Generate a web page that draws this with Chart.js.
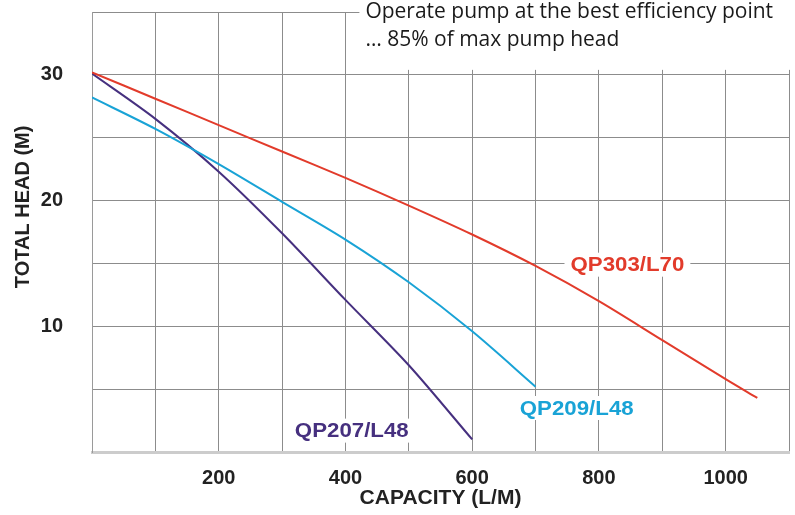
<!DOCTYPE html>
<html>
<head>
<meta charset="utf-8">
<script src="https://cdn.jsdelivr.net/npm/chart.js@4/dist/chart.umd.min.js"></script>
<style>
  html, body { margin: 0; padding: 0; background: #fff; }
  #wrap { width: 795px; height: 515px; }
</style>
</head>
<body>
<div id="wrap"><canvas id="pumpChart" width="795" height="515"></canvas></div>
<script>
// capacity (L/M) sample points and head (M)
const qp303Flow = [0, 100, 200, 300, 400, 500, 600, 700, 800, 900, 1000, 1050];
const qp303Head = [30.2, 28.1, 26.0, 23.9, 21.8, 19.6, 17.3, 14.8, 12.0, 8.9, 5.8, 4.3];

const qp209Flow = [0, 100, 200, 300, 400, 500, 600, 700];
const qp209Head = [28.2, 25.7, 22.9, 19.9, 16.9, 13.5, 9.6, 5.2];

const qp207Flow = [0, 100, 200, 300, 400, 500, 600];
const qp207Head = [30.1, 26.5, 22.3, 17.4, 12.1, 6.9, 1.0];

const seriesNames = ['QP303/L70', 'QP209/L48', 'QP207/L48'];
const seriesColors = ['#e23b2b', '#19a3d6', '#46307f'];
// where each name sits, in chart units (capacity, head)
const labelAt = [[845, 14.9], [765, 3.5], [410, 1.7]];

const yTickLabels = [10, 20, 30];
const xTickLabels = [200, 400, 600, 800, 1000];
const note = ['Operate pump at the best efficiency point', '\u2026 85% of max pump head'];
const yTitle = 'TOTAL HEAD (M)';

const boldFont = '"Liberation Sans", Arial, sans-serif';

function pts(xs, ys) { return xs.map((x, i) => ({ x: x, y: ys[i] })); }

const curves = [pts(qp303Flow, qp303Head), pts(qp209Flow, qp209Head), pts(qp207Flow, qp207Head)];

// names on the curves, the y title and the note in the top right corner
const annotate = {
  id: 'annotate',
  afterDatasetsDraw(chart) {
    const ctx = chart.ctx, xs = chart.scales.x, ys = chart.scales.y;
    ctx.save();
    // note box hides the grid behind it
    const boxL = xs.getPixelForValue(422);
    ctx.fillStyle = '#fff';
    ctx.fillRect(boxL, 0, chart.width - boxL, ys.getPixelForValue(30) - 5);
    ctx.fillStyle = '#1a1a1a';
    ctx.font = '21px "Open Sans", "Noto Sans", sans-serif';
    ctx.textBaseline = 'middle';
    ctx.textAlign = 'left';
    ctx.fillText(note[0], boxL + 6, 12);
    ctx.fillText(note[1], boxL + 6, 40);

    ctx.font = 'bold 21px ' + boldFont;
    ctx.textAlign = 'center';
    seriesNames.forEach((n, i) => {
      const px = xs.getPixelForValue(labelAt[i][0]);
      const py = ys.getPixelForValue(labelAt[i][1]);
      const w = ctx.measureText(n).width * 1.06;
      ctx.fillStyle = '#fff';
      ctx.fillRect(px - w / 2 - 6, py - 12, w + 12, 24);
      ctx.save();
      ctx.translate(px, py);
      ctx.scale(1.06, 1);
      ctx.fillStyle = seriesColors[i];
      ctx.fillText(n, 0, 1);
      ctx.restore();
    });

    // y title, sits a bit above the middle like the original
    ctx.save();
    ctx.translate(23, ys.getPixelForValue(19.5));
    ctx.rotate(-Math.PI / 2);
    ctx.fillStyle = '#222';
    ctx.font = 'bold 20px ' + boldFont;
    ctx.fillText(yTitle, 0, 0);
    ctx.restore();
    ctx.restore();
  }
};

new Chart(document.getElementById('pumpChart'), {
  type: 'scatter',
  data: {
    datasets: curves.map((d, i) => ({
      label: seriesNames[i],
      data: d,
      showLine: true,
      borderColor: seriesColors[i],
      borderWidth: 2,
      pointRadius: 0,
      tension: 0.3
    }))
  },
  options: {
    responsive: false,
    animation: false,
    layout: { padding: { top: 0, right: 6, left: 0, bottom: 0 } },
    plugins: { legend: { display: false }, tooltip: { enabled: false } },
    scales: {
      x: {
        type: 'linear', min: 0, max: 1100,
        afterFit(s) { s.height = 63; },
        grid: { color: '#8c8c8c', lineWidth: 1, drawTicks: true, tickLength: 12, tickColor: 'rgba(0,0,0,0)' },
        border: { color: '#cccccc', width: 3 },
        ticks: {
          stepSize: 100, padding: 2, color: '#222',
          font: { family: boldFont, size: 20, weight: 'bold' },
          callback: v => xTickLabels.includes(v) ? String(v) : ''
        },
        title: {
          display: true, text: 'CAPACITY (L/M)', color: '#222',
          font: { family: boldFont, size: 21, weight: 'bold' },
          padding: { top: 0, bottom: 4 }
        }
      },
      y: {
        min: 0, max: 35,
        afterFit(s) { s.width = 92; },
        grid: { color: '#8c8c8c', lineWidth: 1, drawTicks: true, tickLength: 29, tickColor: 'rgba(0,0,0,0)' },
        border: { color: '#9a9a9a', width: 1 },
        ticks: {
          stepSize: 5, padding: 0, color: '#222',
          font: { family: boldFont, size: 20, weight: 'bold' },
          callback: v => yTickLabels.includes(v) ? String(v) : ''
        },
        title: { display: false }
      }
    }
  },
  plugins: [annotate]
});
</script>
</body>
</html>
